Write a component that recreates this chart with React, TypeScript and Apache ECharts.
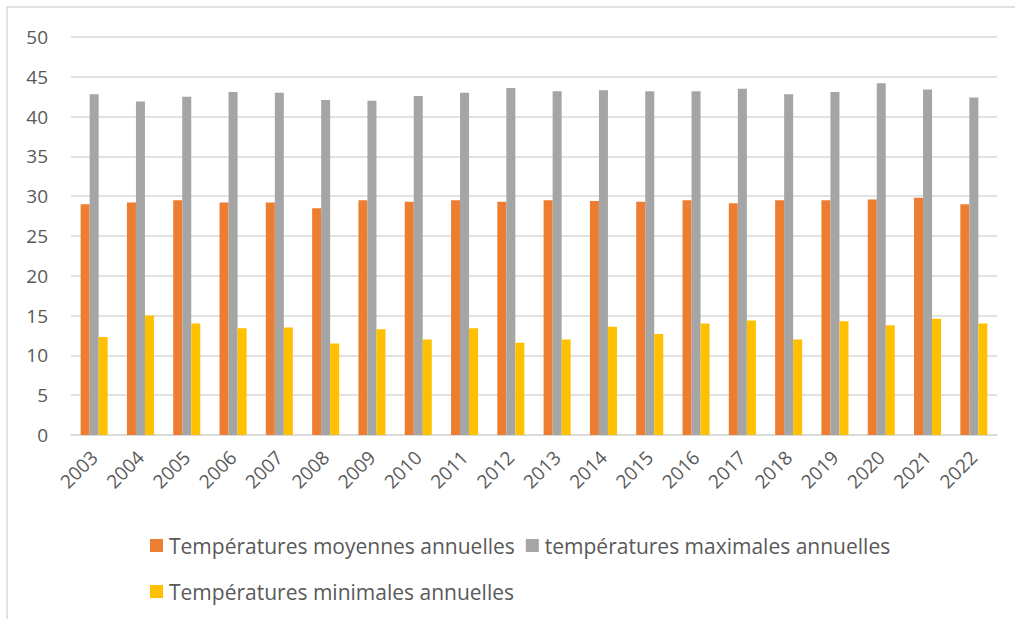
import React, { useEffect, useRef } from "react";
import * as echarts from "echarts";

const years = ["2003","2004","2005","2006","2007","2008","2009","2010","2011","2012","2013","2014","2015","2016","2017","2018","2019","2020","2021","2022"];
const moyennes = [29.0,29.2,29.5,29.2,29.2,28.5,29.5,29.3,29.5,29.3,29.5,29.4,29.3,29.5,29.1,29.5,29.5,29.6,29.8,29.0];
const maximales = [42.8,41.9,42.5,43.1,43.0,42.1,42.0,42.6,43.0,43.6,43.2,43.3,43.2,43.2,43.5,42.8,43.1,44.2,43.4,42.4];
const minimales = [12.3,15.0,14.0,13.4,13.5,11.5,13.3,12.0,13.4,11.6,12.0,13.6,12.7,14.0,14.4,12.0,14.3,13.8,14.6,14.0];
const yTicks = { min: 0, max: 50, interval: 5 };

const seriesNames = [
  "Températures moyennes annuelles",
  "températures maximales annuelles",
  "Températures minimales annuelles",
];
const colors = ["#ED7D31", "#A5A5A5", "#FFC000"];

export default function App() {
  const ref = useRef<HTMLDivElement>(null);
  useEffect(() => {
    if (!ref.current) return;
    const chart = echarts.init(ref.current, null, { renderer: "svg" });
    const font = "'Open Sans', 'Noto Sans', sans-serif";
    const legendText = { color: "#595959", fontSize: 21, fontFamily: font, padding: [0, 0, 0, 1] };
    chart.setOption({
      animation: false,
      color: colors,
      textStyle: { fontFamily: font },
      graphic: [
        {
          type: "rect",
          shape: { x: 7, y: 7, width: 1020, height: 620 },
          style: { fill: "none", stroke: "#d9d9d9", lineWidth: 1.5 },
          silent: true,
        },
      ],
      grid: { left: 71, right: 18, top: 37, bottom: 184, containLabel: false },
      legend: [
        {
          data: [seriesNames[0], seriesNames[1]],
          left: 145,
          top: 530,
          icon: "rect",
          itemWidth: 13,
          itemHeight: 13,
          itemGap: 11,
          textStyle: legendText,
          selectedMode: false,
        },
        {
          data: [seriesNames[2]],
          left: 145,
          top: 576,
          icon: "rect",
          itemWidth: 13,
          itemHeight: 13,
          itemGap: 11,
          textStyle: legendText,
          selectedMode: false,
        },
      ],
      xAxis: {
        type: "category",
        data: years,
        axisTick: { show: false },
        axisLine: { lineStyle: { color: "#d9d9d9", width: 1.5 } },
        axisLabel: {
          rotate: 45,
          interval: 0,
          margin: 19,
          color: "#595959",
          fontSize: 19,
          fontFamily: font,
        },
      },
      yAxis: {
        type: "value",
        min: yTicks.min,
        max: yTicks.max,
        interval: yTicks.interval,
        axisLine: { show: false },
        axisTick: { show: false },
        splitLine: { lineStyle: { color: "#d9d9d9", width: 1.5 } },
        axisLabel: { color: "#595959", fontSize: 19, margin: 23, fontFamily: font },
      },
      series: [
        { name: seriesNames[0], type: "bar", data: moyennes, barGap: "0%", barCategoryGap: "41.6%" },
        { name: seriesNames[1], type: "bar", data: maximales, barGap: "0%", barCategoryGap: "41.6%" },
        { name: seriesNames[2], type: "bar", data: minimales, barGap: "0%", barCategoryGap: "41.6%" },
      ],
    });
    return () => chart.dispose();
  }, []);
  return (
    <div
      ref={ref}
      style={{ position: "fixed", left: 0, top: 0, width: 1015, height: 619, background: "#fff" }}
    />
  );
}
